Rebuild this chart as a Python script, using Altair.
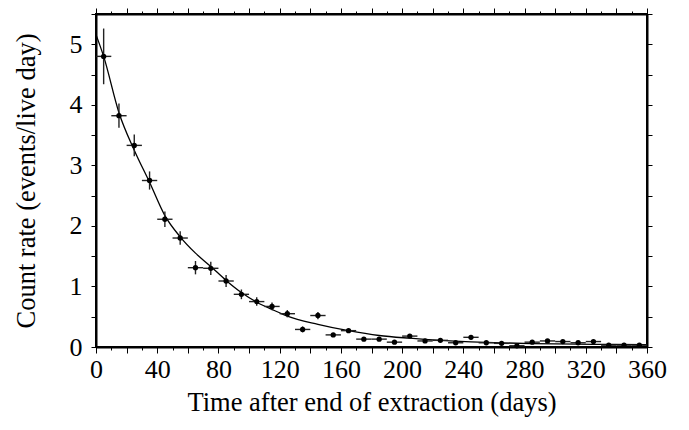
import altair as alt
import pandas as pd

# ---- data ----
days = [5, 15, 25, 35, 45, 55, 65, 75, 85, 95, 105, 115, 125, 135, 145, 155,
        165, 175, 185, 195, 205, 215, 225, 235, 245, 255, 265, 275, 285, 295,
        305, 315, 325, 335, 345, 355]
rates = [4.80, 3.82, 3.33, 2.75, 2.11, 1.80, 1.31, 1.30, 1.09, 0.87, 0.75, 0.67,
         0.55, 0.29, 0.52, 0.20, 0.27, 0.13, 0.13, 0.08, 0.18, 0.10, 0.11, 0.07,
         0.16, 0.07, 0.06, 0.02, 0.08, 0.10, 0.09, 0.07, 0.09, 0.03, 0.03, 0.03]
rate_err = [0.46, 0.20, 0.18, 0.15, 0.13, 0.11, 0.11, 0.11, 0.10, 0.08, 0.07, 0.065,
            0.06, 0.05, 0.06, 0.03, 0.03, 0.03, 0.03, 0.03, 0.03, 0.03, 0.03, 0.02,
            0.03, 0.02, 0.02, 0.02, 0.02, 0.02, 0.02, 0.02, 0.02, 0.02, 0.02, 0.02]
bin_half_width = 5

fit_days = [0, 5, 15, 25, 35, 45, 55, 65, 75, 85, 95, 105, 115, 125, 145, 165,
            185, 205, 225, 245, 265, 285, 325, 360]
fit_rates = [5.16, 4.80, 3.87, 3.25, 2.72, 2.17, 1.82, 1.55, 1.33, 1.10, 0.90, 0.74,
             0.62, 0.51, 0.375, 0.27, 0.19, 0.145, 0.11, 0.085, 0.068, 0.057, 0.045, 0.04]

x_tick_values = list(range(0, 361, 10))
y_tick_values = [i * 0.5 for i in range(12)]

df = pd.DataFrame({"t": days, "rate": rates, "err": rate_err})
fit = pd.DataFrame({"t": fit_days, "rate": fit_rates})

FONT = "Liberation Serif"
xs = alt.Scale(domain=[0, 360], nice=False, zero=False)
ys = alt.Scale(domain=[0, 5.5], nice=False)

x_tick_size = {"condition": {"test": "datum.value % 20 === 0", "value": 6}, "value": 3}

x_bottom = alt.Axis(values=x_tick_values, orient="bottom",
                    labelExpr="datum.value % 40 === 0 ? datum.label : ''",
                    labelFlush=False, labelOverlap=False,
                    tickSize=x_tick_size, labelPadding=3,
                    title="Time after end of extraction (days)", titlePadding=7)
x_top = alt.Axis(values=x_tick_values, orient="top", labels=False,
                 tickSize=x_tick_size, title=None)
y_left = alt.Axis(values=y_tick_values, orient="left",
                  labelExpr="datum.value % 1 === 0 ? format(datum.value, 'd') : ''",
                  labelFlush=False, labelOverlap=False,
                  tickSize=5, labelPadding=9,
                  title="Count rate (events/live day)", titlePadding=29)
y_right = alt.Axis(values=y_tick_values, orient="right", labels=False,
                   tickSize=5, title=None)

curve = alt.Chart(fit).mark_line(color="black", strokeWidth=1.3, interpolate="monotone").encode(
    x=alt.X("t:Q", scale=xs, axis=x_bottom),
    y=alt.Y("rate:Q", scale=ys, axis=y_left),
)

base = alt.Chart(df)

vbars = base.transform_calculate(
    lo="datum.rate - datum.err", hi="datum.rate + datum.err"
).mark_rule(color="#222222", strokeWidth=1.4).encode(
    x=alt.X("t:Q", scale=xs, axis=None),
    y=alt.Y("lo:Q", scale=ys, axis=None),
    y2="hi:Q",
)

hbars = base.transform_calculate(
    t0=f"datum.t - {bin_half_width}", t1=f"datum.t + {bin_half_width}"
).mark_rule(color="#222222", strokeWidth=1.4).encode(
    x=alt.X("t0:Q", scale=xs, axis=None),
    x2="t1:Q",
    y=alt.Y("rate:Q", scale=ys, axis=None),
)

pts = base.mark_circle(color="black", size=28, opacity=1).encode(
    x=alt.X("t:Q", scale=xs, axis=x_top),
    y=alt.Y("rate:Q", scale=ys, axis=y_right),
)

chart = alt.layer(curve, vbars, hbars, pts).resolve_axis(
    x="independent", y="independent"
).properties(
    width=551, height=333,
    autosize=alt.AutoSizeParams(type="none"),
    padding={"left": 88, "top": 6, "right": 34, "bottom": 75},
).configure_view(
    stroke="black", strokeWidth=2
).configure_axis(
    grid=False,
    domainColor="black", domainWidth=2,
    tickColor="black", tickWidth=1,
    labelFont=FONT, labelFontSize=26, labelColor="black",
    titleFont=FONT, titleFontSize=26.5, titleColor="black", titleFontWeight="normal",
    titleLimit=0,
)

chart.save("out.html", embed_options={"renderer": "svg", "actions": False})
